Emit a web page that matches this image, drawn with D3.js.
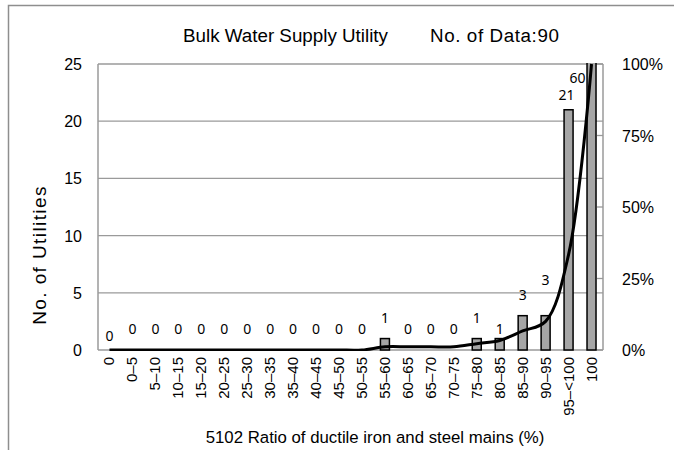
<!DOCTYPE html>
<html>
<head>
<meta charset="utf-8">
<script src="https://cdn.jsdelivr.net/npm/d3@7"></script>
<style>
body { margin: 0; background: #fff; }
svg { display: block; }
</style>
</head>
<body>
<svg id="chart" width="674" height="450"></svg>
<script>
// histogram categories (%) and number of utilities in each
var categories = ['0', '0–5', '5–10', '10–15', '15–20', '20–25', '25–30', '30–35', '35–40', '40–45',
    '45–50', '50–55', '55–60', '60–65', '65–70', '70–75', '75–80', '80–85', '85–90', '90–95', '95–<100', '100'];
var counts = [0, 0, 0, 0, 0, 0, 0, 0, 0, 0, 0, 0, 1, 0, 0, 0, 1, 1, 3, 3, 21, 60];
var leftTicks = [0, 5, 10, 15, 20, 25];
var rightTicks = [0, 0.25, 0.5, 0.75, 1];
var titleText = 'Bulk Water Supply Utility';
var dataText = 'No. of Data:90';

var svg = d3.select('#chart');
var plotL = 98, plotR = 603, plotT = 64, plotB = 350;
var grey = '#9a9a9a';
var font = 'Liberation Sans, Arial, sans-serif';

var total = d3.sum(counts);
var cumul = Array.from(d3.cumsum(counts), function (c) { return c / total; });

var x = d3.scaleBand().domain(categories).range([plotL, plotR]);
var y = d3.scaleLinear().domain([0, 25]).range([plotB, plotT]);
var y2 = d3.scaleLinear().domain([0, 1]).range([plotB, plotT]);

function cx(i) { return x(categories[i]) + x.bandwidth() / 2; }

// outer frame (only left and top visible)
svg.append('path')
    .attr('d', 'M8.5,450V5.5H674')
    .attr('fill', 'none')
    .attr('stroke', '#8e8e8e')
    .attr('stroke-width', 1.5);

svg.append('defs').append('clipPath').attr('id', 'plotclip')
    .append('rect').attr('x', plotL).attr('y', plotT - 1).attr('width', plotR - plotL).attr('height', plotB - plotT + 2);

// gridlines
svg.append('g').selectAll('line')
    .data(leftTicks)
    .enter().append('line')
    .attr('x1', plotL).attr('x2', plotR)
    .attr('y1', function (d) { return y(d); })
    .attr('y2', function (d) { return y(d); })
    .attr('stroke', grey).attr('stroke-width', 1.3);

// left / right axis lines
svg.append('line').attr('x1', plotL).attr('x2', plotL).attr('y1', plotT).attr('y2', plotB)
    .attr('stroke', grey).attr('stroke-width', 1.5);
svg.append('line').attr('x1', plotR).attr('x2', plotR).attr('y1', plotT).attr('y2', plotB)
    .attr('stroke', grey).attr('stroke-width', 1.5);

// right axis small ticks
svg.append('g').selectAll('line')
    .data(rightTicks)
    .enter().append('line')
    .attr('x1', plotR - 6).attr('x2', plotR)
    .attr('y1', function (d) { return y2(d); })
    .attr('y2', function (d) { return y2(d); })
    .attr('stroke', grey).attr('stroke-width', 1.3);

// left tick labels
svg.append('g').selectAll('text')
    .data(leftTicks)
    .enter().append('text')
    .attr('x', 82)
    .attr('y', function (d) { return y(d) + 6; })
    .attr('text-anchor', 'end')
    .style('font-family', font)
    .style('font-size', '16px')
    .text(function (d) { return d; });

// right tick labels
svg.append('g').selectAll('text')
    .data(rightTicks)
    .enter().append('text')
    .attr('x', 622)
    .attr('y', function (d) { return y2(d) + 6; })
    .style('font-family', font)
    .style('font-size', '16px')
    .text(function (d) { return d3.format('.0%')(d); });

// bars
var barW = 9;
svg.append('g').attr('clip-path', 'url(#plotclip)')
    .selectAll('rect')
    .data(counts)
    .enter().append('rect')
    .attr('x', function (d, i) { return cx(i) - barW / 2; })
    .attr('y', function (d) { return y(d); })
    .attr('width', barW)
    .attr('height', function (d) { return plotB - y(d); })
    .attr('fill', '#a6a6a6')
    .attr('stroke', '#000')
    .attr('stroke-width', 1.5);

// cumulative line (smoothed)
var line = d3.line()
    .x(function (d, i) { return cx(i); })
    .y(function (d) { return y2(d); })
    .curve(d3.curveCatmullRom.alpha(0.5));

svg.append('path')
    .attr('clip-path', 'url(#plotclip)')
    .datum(cumul)
    .attr('d', line)
    .attr('fill', 'none')
    .attr('stroke', '#000')
    .attr('stroke-width', 3);

// data labels; a few were moved by hand in the original
var nudge = {
    '0': [0, 7],
    '80–85': [0, 11],
    '90–95': [0, -15],
    '95–<100': [-2, 6]
};
svg.append('g').selectAll('text')
    .data(counts)
    .enter().append('text')
    .attr('x', function (d, i) {
        var px = cx(i);
        if (y(d) < plotT) px -= 14;
        return px + (nudge[categories[i]] ? nudge[categories[i]][0] : 0);
    })
    .attr('y', function (d, i) {
        var py = y(d) - 16;
        if (y(d) < plotT) py = plotT + 19;
        return py + (nudge[categories[i]] ? nudge[categories[i]][1] : 0);
    })
    .attr('text-anchor', 'middle')
    .style('font-family', 'Noto Sans, Open Sans, sans-serif')
    .style('font-size', '14px')
    .text(function (d) { return d; });

// x tick labels, rotated
svg.append('g').selectAll('text')
    .data(categories)
    .enter().append('text')
    .attr('transform', function (d, i) {
        return 'translate(' + (cx(i) + 5) + ',357) rotate(-90)';
    })
    .attr('text-anchor', 'end')
    .style('font-family', font)
    .style('font-size', '15px')
    .text(function (d) { return d; });

// titles
svg.append('text')
    .attr('x', 183).attr('y', 42)
    .style('font-family', font)
    .style('font-size', '18.8px')
    .text(titleText);
svg.append('text')
    .attr('x', 430).attr('y', 42)
    .style('font-family', font)
    .style('font-size', '18.8px')
    .style('letter-spacing', '0.6px')
    .text(dataText);

svg.append('text')
    .attr('transform', 'translate(46,255) rotate(-90)')
    .attr('text-anchor', 'middle')
    .style('font-family', font)
    .style('font-size', '19px')
    .style('letter-spacing', '1.4px')
    .text('No. of Utilities');

svg.append('text')
    .attr('x', 375).attr('y', 443)
    .attr('text-anchor', 'middle')
    .style('font-family', font)
    .style('font-size', '16.8px')
    .text('5102 Ratio of ductile iron and steel mains (%)');
</script>
</body>
</html>
